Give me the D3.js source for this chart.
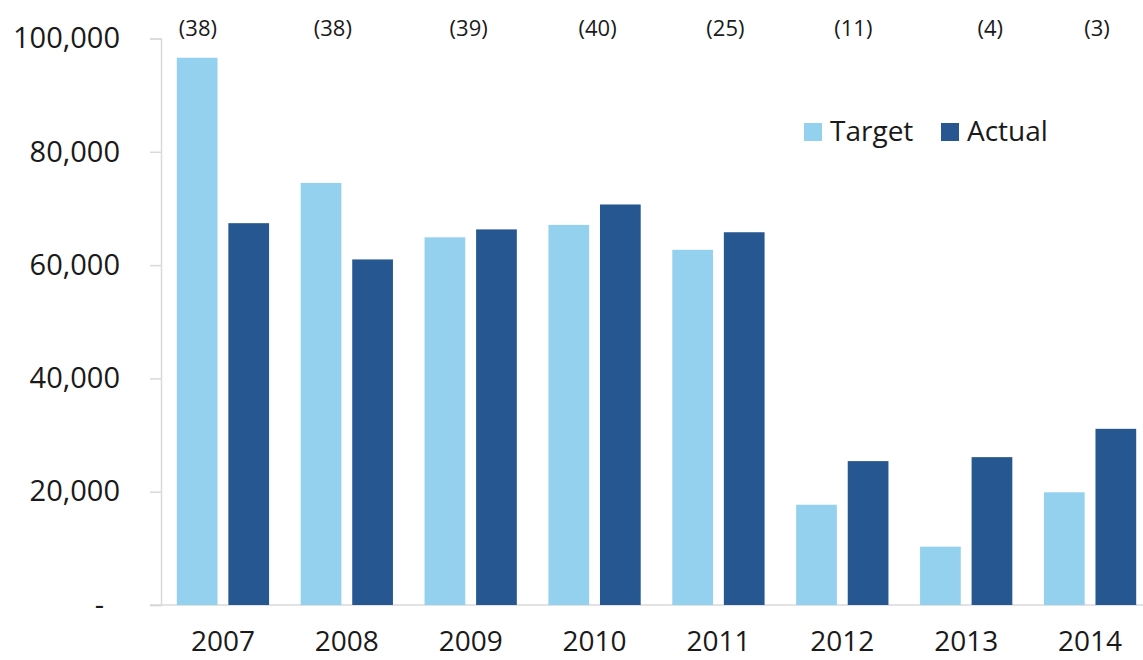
<!DOCTYPE html>
<meta charset="utf-8">
<style>
  body { margin: 0; padding: 0; background: white; }
  svg { display: block; background: white; font-family: "Open Sans", sans-serif; }
  .axis path, .axis line { stroke: #d9d9d9; stroke-width: 1.5px; }
</style>
<script src="https://d3js.org/d3.v7.min.js"></script>
<svg id="vis"></svg>
<script>

var width = 1143, height = 660;

// data
const years   = ["2007","2008","2009","2010","2011","2012","2013","2014"];
const target  = [96600, 74500, 64900, 67100, 62700, 17700, 10300, 19900];
const actual  = [67400, 61000, 66300, 70700, 65800, 25400, 26100, 31100];
const counts  = ["(38)","(38)","(39)","(40)","(25)","(11)","(4)","(3)"];
const yTicks  = [0, 20000, 40000, 60000, 80000, 100000];
const series  = ["Target","Actual"];
const colors  = ["#94d1ee","#265791"];

// labels at the top were nudged by hand in the original
var countShift = [-25, -14, -2, 3, 7, 11, 24, 7];

var svg = d3.select("#vis").attr("width", width).attr("height", height);

var x = d3.scaleBand().domain(years).range([161, 1152]).paddingInner(0).paddingOuter(0);
var x1 = d3.scaleBand().domain(series).range([15.8, x.bandwidth() - 15.8]).paddingInner(0.21);
var y = d3.scaleLinear().domain([0, 100000]).range([605, 38.5]);

// y axis
var yAxis = svg.append("g")
  .attr("class", "axis")
  .attr("transform", "translate(161,0)")
  .call(d3.axisLeft(y).tickValues(yTicks).tickSizeOuter(0).tickSize(11).tickPadding(30)
    .tickFormat(d => d === 0 ? "-" : d3.format(",")(d)));
yAxis.selectAll("text")
  .attr("font-size", 29)
  .attr("font-family", "Open Sans")
  .attr("fill", "#1a1a1a")
  .attr("dx", d => d === 0 ? -16 : 0);

// baseline
svg.append("line")
  .attr("x1", 150).attr("x2", 1143)
  .attr("y1", y(0)).attr("y2", y(0))
  .attr("stroke", "#d9d9d9").attr("stroke-width", 1.5);

// bars
var groups = svg.append("g").selectAll("g")
  .data(years)
  .enter().append("g")
  .attr("transform", d => "translate(" + x(d) + ",0)");

groups.selectAll("rect")
  .data((d, i) => [{s: "Target", v: target[i]}, {s: "Actual", v: actual[i]}])
  .enter().append("rect")
  .attr("x", d => x1(d.s))
  .attr("width", x1.bandwidth())
  .attr("y", d => y(d.v))
  .attr("height", d => y(0) - y(d.v))
  .attr("fill", (d, i) => colors[i]);

// year labels
svg.append("g").selectAll("text")
  .data(years)
  .enter().append("text")
  .attr("x", d => x(d) + x.bandwidth() / 2)
  .attr("y", 651)
  .attr("text-anchor", "middle")
  .attr("font-size", 28)
  .attr("fill", "#1a1a1a")
  .text(d => d);

// counts on top
svg.append("g").selectAll("text")
  .data(counts)
  .enter().append("text")
  .attr("x", (d, i) => x(years[i]) + x.bandwidth() / 2 + countShift[i])
  .attr("y", 36)
  .attr("text-anchor", "middle")
  .attr("font-size", 22)
  .attr("fill", "#1a1a1a")
  .text(d => d);

// legend
var legendX = [804, 941];
var legend = svg.append("g").selectAll("g")
  .data(series)
  .enter().append("g")
  .attr("transform", (d, i) => "translate(" + legendX[i] + ",123)");
legend.append("rect")
  .attr("width", 18).attr("height", 18)
  .attr("fill", (d, i) => colors[i]);
legend.append("text")
  .attr("x", 26).attr("y", 18)
  .attr("font-size", 28)
  .attr("fill", "#1a1a1a")
  .text(d => d);

</script>
